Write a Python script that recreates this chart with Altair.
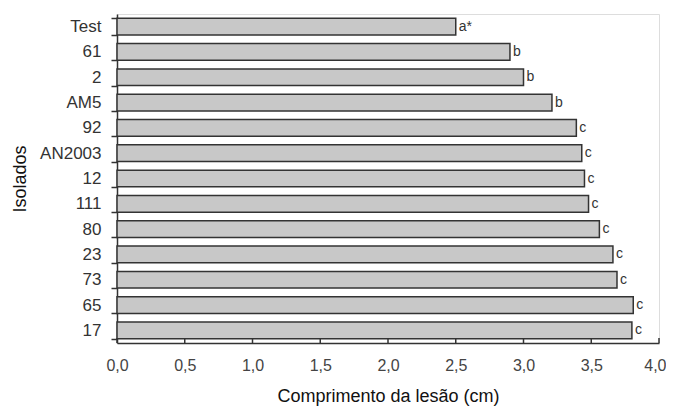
import altair as alt
import pandas as pd

isolados = ["Test", "61", "2", "AM5", "92", "AN2003", "12", "111", "80", "23", "73", "65", "17"]
comprimento = [2.50, 2.90, 3.00, 3.21, 3.39, 3.43, 3.45, 3.48, 3.56, 3.66, 3.69, 3.81, 3.80]
letras = ["a*", "b", "b", "b", "c", "c", "c", "c", "c", "c", "c", "c", "c"]
x_ticks = [0.0, 0.5, 1.0, 1.5, 2.0, 2.5, 3.0, 3.5, 4.0]

df = pd.DataFrame({"isolado": isolados, "comp": comprimento, "letra": letras})
ticks_df = pd.DataFrame({"v": x_ticks})

W, H = 542, 329
FONT = "Liberation Sans"
xscale = alt.Scale(domain=[0, 4], nice=False)
yscale = alt.Scale(domain=isolados, paddingInner=0.34, paddingOuter=0.17)

bars = alt.Chart(df).mark_bar(
    fill="#c8c8c8", stroke="#333333", strokeWidth=1.5
).encode(
    x=alt.X("comp:Q", scale=xscale,
            axis=alt.Axis(values=x_ticks, title="Comprimento da lesão (cm)",
                          labelExpr="replace(format(datum.value, '.1f'), '.', ',')",
                          labelFlush=False,
                          labelAlign={"condition": {"test": "datum.value == 4", "value": "right"}, "value": "center"},
                          labelOffset={"condition": {"test": "datum.value == 4", "value": 7}, "value": 0},
                          tickSize=0, labelPadding=14, titlePadding=14,
                          grid=False, domainColor="#333333", domainWidth=1.5,
                          labelFont=FONT, labelFontSize=16, labelColor="#444444",
                          titleFont=FONT, titleFontSize=18, titleFontWeight="normal",
                          titleColor="#111111")),
    y=alt.Y("isolado:N", sort=isolados, scale=yscale,
            axis=alt.Axis(title="Isolados", tickBand="extent", tickSize=6,
                          tickColor="#333333", tickWidth=1.5,
                          domainColor="#333333", domainWidth=1.5,
                          labelPadding=10, titlePadding=10,
                          labelFont=FONT, labelFontSize=17, labelColor="#333333",
                          titleFont=FONT, titleFontSize=18, titleFontWeight="normal",
                          titleColor="#111111")),
)

labels = alt.Chart(df).mark_text(
    align="left", baseline="middle", dx=3, font=FONT, fontSize=14, color="#333333"
).encode(
    x=alt.X("comp:Q", scale=xscale),
    y=alt.Y("isolado:N", sort=isolados, scale=yscale),
    text="letra:N",
)

tick_marks = alt.Chart(ticks_df).mark_rule(color="#333333", strokeWidth=1.5).encode(
    x=alt.X("v:Q", scale=xscale),
    y=alt.value(H - 5),
    y2=alt.value(H),
)

chart = alt.layer(bars, labels, tick_marks).properties(
    width=W, height=H,
    autosize=alt.AutoSizeParams(type="none"),
    padding={"left": 109, "top": 6, "right": 7, "bottom": 63},
).configure_view(stroke=None).configure(background="white")

chart.save("out.html", embed_options={"renderer": "svg", "actions": False})
